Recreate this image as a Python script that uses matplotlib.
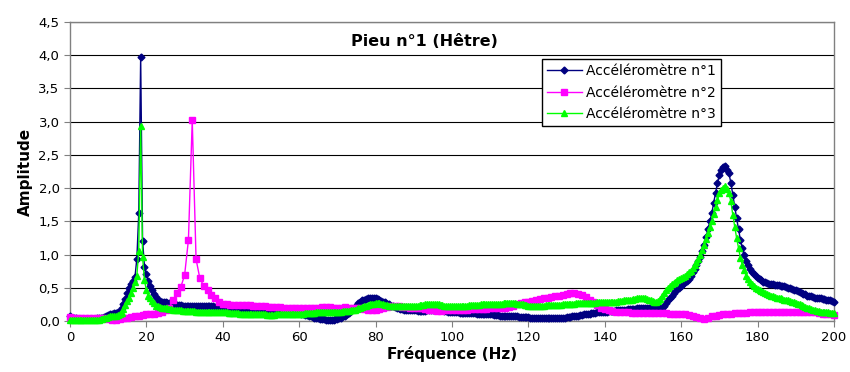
import numpy as np
import matplotlib
matplotlib.use("Agg")
import matplotlib.pyplot as plt

# frequency bins (Hz)
freq_fine = np.arange(0, 200.5, 0.5)   # accelerometers 1 and 3
freq_coarse = np.arange(0, 201, 1.0)   # accelerometer 2

acc1 = [
    0.07, 0.05, 0.04, 0.04, 0.03, 0.03, 0.03, 0.03, 0.03, 0.03, 0.03, 0.03, 0.03, 0.03, 0.04, 0.04, 0.04, 0.05, 0.06, 0.08,
    0.09, 0.10, 0.11, 0.12, 0.12, 0.13, 0.15, 0.19, 0.25, 0.33, 0.42, 0.50, 0.55, 0.60, 0.66, 0.94, 1.62, 3.98, 1.21, 0.82,
    0.70, 0.60, 0.52, 0.46, 0.41, 0.36, 0.32, 0.30, 0.29, 0.28, 0.28, 0.27, 0.27, 0.26, 0.25, 0.25, 0.24, 0.24, 0.24, 0.23,
    0.23, 0.23, 0.23, 0.22, 0.22, 0.22, 0.22, 0.22, 0.22, 0.22, 0.22, 0.22, 0.23, 0.23, 0.22, 0.22, 0.21, 0.21, 0.20, 0.20,
    0.19, 0.19, 0.19, 0.18, 0.18, 0.18, 0.18, 0.18, 0.17, 0.17, 0.17, 0.17, 0.17, 0.17, 0.16, 0.16, 0.16, 0.16, 0.16, 0.16,
    0.16, 0.16, 0.15, 0.15, 0.15, 0.15, 0.15, 0.14, 0.14, 0.14, 0.14, 0.14, 0.13, 0.13, 0.13, 0.13, 0.13, 0.13, 0.12, 0.12,
    0.12, 0.11, 0.10, 0.09, 0.09, 0.08, 0.07, 0.06, 0.05, 0.05, 0.04, 0.03, 0.03, 0.03, 0.02, 0.02, 0.02, 0.02, 0.02, 0.03,
    0.03, 0.04, 0.05, 0.07, 0.08, 0.10, 0.12, 0.15, 0.18, 0.21, 0.24, 0.27, 0.29, 0.31, 0.32, 0.33, 0.34, 0.35, 0.35, 0.35,
    0.34, 0.33, 0.32, 0.30, 0.29, 0.28, 0.26, 0.25, 0.23, 0.22, 0.21, 0.20, 0.19, 0.18, 0.18, 0.17, 0.17, 0.17, 0.16, 0.16,
    0.16, 0.16, 0.15, 0.15, 0.15, 0.15, 0.15, 0.16, 0.16, 0.16, 0.16, 0.17, 0.17, 0.17, 0.16, 0.16, 0.15, 0.15, 0.14, 0.14,
    0.13, 0.13, 0.13, 0.13, 0.12, 0.12, 0.12, 0.12, 0.12, 0.12, 0.12, 0.12, 0.12, 0.11, 0.11, 0.11, 0.11, 0.11, 0.10, 0.10,
    0.10, 0.10, 0.09, 0.09, 0.09, 0.08, 0.08, 0.08, 0.08, 0.07, 0.07, 0.07, 0.07, 0.07, 0.07, 0.06, 0.06, 0.06, 0.06, 0.06,
    0.06, 0.05, 0.05, 0.05, 0.05, 0.05, 0.05, 0.04, 0.04, 0.04, 0.04, 0.04, 0.04, 0.04, 0.04, 0.05, 0.05, 0.05, 0.05, 0.05,
    0.06, 0.06, 0.06, 0.07, 0.07, 0.08, 0.08, 0.09, 0.09, 0.10, 0.10, 0.11, 0.11, 0.12, 0.12, 0.12, 0.13, 0.13, 0.13, 0.14,
    0.14, 0.14, 0.15, 0.15, 0.15, 0.15, 0.16, 0.16, 0.16, 0.17, 0.17, 0.17, 0.18, 0.18, 0.18, 0.18, 0.18, 0.19, 0.19, 0.19,
    0.19, 0.19, 0.19, 0.19, 0.20, 0.20, 0.20, 0.20, 0.19, 0.19, 0.20, 0.23, 0.27, 0.31, 0.35, 0.38, 0.42, 0.45, 0.48, 0.50,
    0.53, 0.55, 0.58, 0.60, 0.63, 0.68, 0.73, 0.79, 0.85, 0.91, 0.97, 1.06, 1.15, 1.26, 1.38, 1.50, 1.62, 1.78, 1.93, 2.08,
    2.20, 2.28, 2.32, 2.33, 2.28, 2.22, 2.08, 1.90, 1.72, 1.55, 1.38, 1.22, 1.10, 1.00, 0.90, 0.84, 0.78, 0.74, 0.70, 0.67,
    0.65, 0.63, 0.61, 0.59, 0.58, 0.57, 0.56, 0.55, 0.55, 0.54, 0.54, 0.54, 0.53, 0.53, 0.52, 0.51, 0.50, 0.49, 0.48, 0.47,
    0.47, 0.45, 0.44, 0.42, 0.41, 0.40, 0.38, 0.37, 0.37, 0.36, 0.35, 0.35, 0.34, 0.34, 0.33, 0.33, 0.32, 0.32, 0.31, 0.30,
    0.29,
]

acc2 = [
    0.06, 0.05, 0.05, 0.05, 0.05, 0.05, 0.05, 0.05, 0.05, 0.04,
    0.03, 0.02, 0.02, 0.03, 0.04, 0.05, 0.06, 0.07, 0.08, 0.09,
    0.10, 0.10, 0.11, 0.12, 0.13, 0.16, 0.20, 0.32, 0.42, 0.51,
    0.69, 1.22, 3.02, 0.93, 0.64, 0.53, 0.46, 0.39, 0.34, 0.29,
    0.26, 0.25, 0.24, 0.24, 0.24, 0.24, 0.24, 0.24, 0.23, 0.23,
    0.22, 0.22, 0.21, 0.21, 0.21, 0.21, 0.20, 0.20, 0.20, 0.20,
    0.20, 0.20, 0.20, 0.20, 0.20, 0.20, 0.21, 0.21, 0.21, 0.20,
    0.20, 0.20, 0.21, 0.20, 0.20, 0.19, 0.19, 0.18, 0.17, 0.17,
    0.17, 0.18, 0.20, 0.21, 0.22, 0.22, 0.22, 0.21, 0.21, 0.20,
    0.20, 0.20, 0.19, 0.18, 0.17, 0.16, 0.15, 0.15, 0.16, 0.16,
    0.17, 0.17, 0.17, 0.17, 0.17, 0.18, 0.18, 0.18, 0.18, 0.18,
    0.19, 0.19, 0.19, 0.19, 0.20, 0.21, 0.23, 0.25, 0.27, 0.28,
    0.29, 0.30, 0.31, 0.33, 0.34, 0.35, 0.36, 0.37, 0.38, 0.39,
    0.41, 0.42, 0.42, 0.41, 0.39, 0.36, 0.32, 0.28, 0.24, 0.20,
    0.18, 0.17, 0.15, 0.14, 0.13, 0.13, 0.13, 0.12, 0.12, 0.12,
    0.12, 0.12, 0.12, 0.12, 0.12, 0.12, 0.12, 0.11, 0.11, 0.11,
    0.11, 0.10, 0.09, 0.08, 0.06, 0.04, 0.03, 0.05, 0.07, 0.08,
    0.09, 0.10, 0.11, 0.11, 0.12, 0.12, 0.12, 0.12, 0.13, 0.13,
    0.13, 0.13, 0.13, 0.13, 0.13, 0.13, 0.13, 0.13, 0.13, 0.13,
    0.13, 0.14, 0.14, 0.14, 0.13, 0.13, 0.12, 0.11, 0.10, 0.10,
    0.09,
]

acc3 = [
    0.02, 0.02, 0.02, 0.02, 0.02, 0.02, 0.02, 0.02, 0.02, 0.02, 0.02, 0.02, 0.02, 0.02, 0.02, 0.02, 0.03, 0.03, 0.04, 0.05,
    0.06, 0.07, 0.07, 0.08, 0.08, 0.09, 0.10, 0.12, 0.18, 0.24, 0.30, 0.35, 0.42, 0.50, 0.58, 0.68, 1.06, 2.93, 0.96, 0.61,
    0.46, 0.38, 0.34, 0.30, 0.27, 0.23, 0.22, 0.21, 0.20, 0.20, 0.19, 0.19, 0.18, 0.18, 0.17, 0.17, 0.16, 0.16, 0.16, 0.15,
    0.15, 0.15, 0.15, 0.15, 0.15, 0.15, 0.14, 0.14, 0.14, 0.14, 0.14, 0.14, 0.14, 0.14, 0.14, 0.14, 0.13, 0.13, 0.13, 0.13,
    0.13, 0.13, 0.13, 0.12, 0.12, 0.12, 0.12, 0.12, 0.12, 0.11, 0.11, 0.11, 0.11, 0.11, 0.10, 0.10, 0.10, 0.10, 0.10, 0.10,
    0.10, 0.10, 0.10, 0.09, 0.09, 0.09, 0.09, 0.09, 0.10, 0.10, 0.10, 0.10, 0.10, 0.10, 0.10, 0.11, 0.11, 0.11, 0.11, 0.11,
    0.11, 0.11, 0.11, 0.12, 0.12, 0.12, 0.12, 0.12, 0.12, 0.13, 0.13, 0.13, 0.13, 0.13, 0.13, 0.13, 0.14, 0.14, 0.14, 0.14,
    0.14, 0.14, 0.14, 0.15, 0.15, 0.15, 0.15, 0.16, 0.16, 0.17, 0.18, 0.19, 0.20, 0.21, 0.22, 0.23, 0.24, 0.25, 0.26, 0.26,
    0.27, 0.27, 0.27, 0.26, 0.25, 0.24, 0.24, 0.23, 0.23, 0.22, 0.22, 0.22, 0.22, 0.22, 0.22, 0.22, 0.22, 0.23, 0.23, 0.23,
    0.23, 0.23, 0.23, 0.24, 0.24, 0.24, 0.25, 0.25, 0.26, 0.26, 0.26, 0.26, 0.25, 0.25, 0.24, 0.24, 0.23, 0.23, 0.22, 0.22,
    0.22, 0.22, 0.22, 0.22, 0.23, 0.23, 0.23, 0.23, 0.23, 0.24, 0.24, 0.24, 0.24, 0.24, 0.24, 0.25, 0.25, 0.25, 0.25, 0.25,
    0.25, 0.25, 0.25, 0.26, 0.26, 0.26, 0.26, 0.27, 0.27, 0.27, 0.27, 0.27, 0.27, 0.27, 0.26, 0.26, 0.25, 0.25, 0.24, 0.24,
    0.23, 0.23, 0.23, 0.23, 0.23, 0.23, 0.23, 0.23, 0.23, 0.24, 0.24, 0.24, 0.24, 0.24, 0.24, 0.24, 0.24, 0.24, 0.25, 0.25,
    0.25, 0.26, 0.26, 0.26, 0.26, 0.27, 0.27, 0.27, 0.27, 0.27, 0.27, 0.27, 0.27, 0.27, 0.27, 0.27, 0.28, 0.28, 0.28, 0.28,
    0.28, 0.28, 0.28, 0.29, 0.29, 0.29, 0.29, 0.30, 0.30, 0.30, 0.31, 0.31, 0.31, 0.32, 0.32, 0.33, 0.33, 0.34, 0.34, 0.35,
    0.34, 0.34, 0.33, 0.32, 0.31, 0.30, 0.29, 0.28, 0.30, 0.33, 0.38, 0.42, 0.46, 0.49, 0.52, 0.55, 0.57, 0.59, 0.61, 0.63,
    0.65, 0.66, 0.68, 0.70, 0.73, 0.76, 0.80, 0.84, 0.89, 0.94, 1.00, 1.07, 1.15, 1.23, 1.32, 1.41, 1.50, 1.61, 1.72, 1.82,
    1.92, 1.97, 2.00, 2.03, 1.98, 1.92, 1.80, 1.60, 1.42, 1.25, 1.10, 0.95, 0.85, 0.77, 0.68, 0.63, 0.58, 0.55, 0.52, 0.50,
    0.48, 0.46, 0.45, 0.43, 0.42, 0.40, 0.39, 0.38, 0.37, 0.36, 0.35, 0.34, 0.34, 0.33, 0.32, 0.31, 0.31, 0.30, 0.29, 0.28,
    0.27, 0.26, 0.25, 0.24, 0.22, 0.21, 0.20, 0.19, 0.18, 0.17, 0.16, 0.15, 0.15, 0.14, 0.14, 0.13, 0.13, 0.13, 0.12, 0.12,
    0.12,
]

labels = ["Accéléromètre n°1", "Accéléromètre n°2", "Accéléromètre n°3"]
xticks = list(range(0, 201, 20))
yticks = [0, 0.5, 1.0, 1.5, 2.0, 2.5, 3.0, 3.5, 4.0, 4.5]

fig = plt.figure(figsize=(8.5, 3.72), dpi=100)
ax = fig.add_axes([70 / 850, 1 - 321 / 372, 764 / 850, 299 / 372])

ax.plot(freq_fine, acc1, color="#000080", marker="D", markersize=3.5, lw=1,
        label=labels[0], clip_on=False, zorder=3)
ax.plot(freq_coarse, acc2, color="#FF00FF", marker="s", markersize=4, lw=1,
        label=labels[1], clip_on=False, zorder=3)
ax.plot(freq_fine, acc3, color="#00FF00", marker="^", markersize=4.5, lw=1,
        label=labels[2], clip_on=False, zorder=3)

ax.set_xlim(0, 200)
ax.set_ylim(0, 4.5)
ax.set_xticks(xticks)
ax.set_yticks(yticks)
ax.set_yticklabels([f"{v:.1f}".replace(".", ",") for v in yticks])
ax.tick_params(labelsize=9.5, length=4, color="#808080", direction="out")
ax.yaxis.grid(True, color="black", lw=0.8)
ax.set_axisbelow(True)
for s in ax.spines.values():
    s.set_color("#808080")
    s.set_linewidth(1)

ax.set_xlabel("Fréquence (Hz)", fontsize=11, fontweight="bold", labelpad=1)
ax.set_ylabel("Amplitude", fontsize=11, fontweight="bold", labelpad=4)
fig.text(0.499, 0.888, "Pieu n°1 (Hêtre)", fontsize=11.5, fontweight="bold",
         ha="center", va="center")

leg = ax.legend(loc="upper left", bbox_to_anchor=(0.618, 0.876), fontsize=10,
                frameon=True, fancybox=False, edgecolor="black", framealpha=1,
                borderpad=0.35, labelspacing=0.55, handlelength=2.5,
                handletextpad=0.3, borderaxespad=0)
leg.get_frame().set_linewidth(1)

fig.savefig("out.png", dpi=100)
